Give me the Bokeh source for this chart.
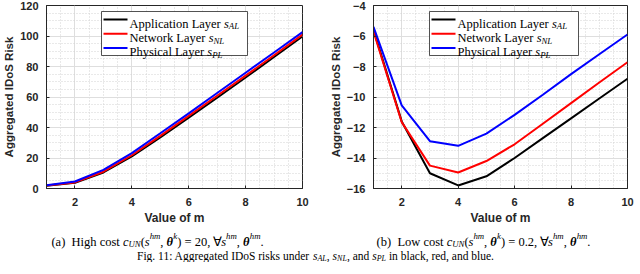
from bokeh.plotting import figure
from bokeh.models import Range1d, SingleIntervalTicker, BoxAnnotation
from bokeh.core.properties import value
from bokeh.layouts import row, column
from bokeh.embed import file_html
from bokeh.resources import INLINE

# ---------------- data ----------------
m_values = [1, 2, 3, 4, 5, 6, 7, 8, 9, 10]

high_AL = [1.8, 3.8, 10.5, 21.0, 33.5, 46.5, 59.5, 72.8, 86.2, 99.7]
high_NL = [2.0, 4.0, 11.0, 21.8, 34.5, 47.6, 60.8, 74.0, 87.4, 100.9]
high_PL = [2.2, 4.6, 12.2, 23.2, 36.2, 49.3, 62.6, 75.9, 89.2, 102.5]

low_AL = [-5.6, -11.6, -15.0, -15.8, -15.2, -14.0, -12.7, -11.4, -10.1, -8.8]
low_NL = [-5.7, -11.65, -14.5, -14.95, -14.2, -13.1, -11.75, -10.4, -9.05, -7.72]
low_PL = [-5.4, -10.55, -12.9, -13.2, -12.4, -11.17, -9.85, -8.5, -7.2, -5.9]

series_names = ["Application Layer ", "Network Layer ", "Physical Layer "]
series_subs = ["AL", "NL", "PL"]
series_colors = ["black", "red", "blue"]

x_label = "Value of m"
y_label = "Aggregated IDoS Risk"

# ---------------- style ----------------
SERIF = "Liberation Serif"
SANS = "Liberation Sans"
AX = "#262626"
FH = 183
BB = 35          # bottom border of the panels
CAP_H = 258 - 5 - FH - BB

W_REG = {' ': 250, '(': 333, ')': 333, ',': 250, '.': 250, ':': 278, '=': 564,
         '0': 500, '1': 500, '2': 500, 'A': 722, 'D': 722, 'F': 556, 'H': 722,
         'I': 333, 'L': 611, 'N': 722, 'P': 556, 'S': 556, 'a': 444, 'b': 500,
         'c': 444, 'd': 500, 'e': 444, 'f': 333, 'g': 500, 'h': 500, 'i': 278,
         'k': 500, 'l': 278, 'm': 778, 'n': 500, 'o': 500, 'p': 500, 'r': 333,
         's': 389, 't': 278, 'u': 500, 'v': 500, 'w': 722, 'y': 500,
         '\u2200': 620, '\u03b8': 540}
W_IT = {'A': 611, 'L': 556, 'N': 667, 'P': 611, 'U': 722, 'c': 444, 'h': 500,
        'k': 444, 'm': 722, 's': 389}
ITAL = ('i', 'isub', 'isup')
SCALE = {'n': 1, 'i': 1, 'bi': 1, 'isub': 0.7, 'isup': 0.7}
DY = {'isub': -0.22, 'isup': 0.42}


def text_width(t, size, kind):
    table = W_IT if kind in ITAL else W_REG
    return sum(table.get(c, W_REG.get(c, 500)) for c in t) * size / 1000.0


def rich_text(p, to_data, x, y, segs, size, center=False):
    """Draw a run of differently styled text pieces; x, y are pixel offsets
    inside the frame (from its bottom-left) converted by to_data."""
    sizes = [size * SCALE[k] for _, k in segs]
    widths = [text_width(t, s, k) for (t, k), s in zip(segs, sizes)]
    if center:
        x -= sum(widths) / 2.0
    for (t, k), s, w in zip(segs, sizes, widths):
        stripped = t.strip()
        lead = len(t) - len(t.lstrip())
        if stripped:
            style = ('italic' if k in ITAL else 'bold italic' if k == 'bi' else 'normal')
            dx, dy = to_data(x + text_width(' ' * lead, s, 'n'), y + DY.get(k, 0) * size)
            r = p.text(x=[dx], y=[dy], text=[stripped], text_font=value(SERIF),
                       text_font_style=style, text_font_size=f"{s:.1f}px",
                       text_color='black', text_baseline='alphabetic', text_align='left')
            r.level = 'overlay'
        x += w


def make_fig(yr, yint, fw, bl, br):
    p = figure(frame_width=fw, frame_height=FH, x_range=Range1d(1, 10),
               y_range=Range1d(*yr), output_backend="svg", toolbar_location=None,
               min_border_left=bl, min_border_right=br, min_border_top=5,
               min_border_bottom=BB)
    xt = SingleIntervalTicker(interval=2, num_minor_ticks=4)
    yt = SingleIntervalTicker(interval=yint, num_minor_ticks=4)
    p.xaxis.ticker = xt
    p.xgrid.ticker = xt
    p.yaxis.ticker = yt
    p.ygrid.ticker = yt
    for g in (p.xgrid, p.ygrid):
        g.grid_line_color = "#dedede"
        g.grid_line_width = 1
        g.minor_grid_line_color = "#d2d2d2"
        g.minor_grid_line_dash = "1 2"
        g.minor_grid_line_width = 1
    for a in (p.xaxis, p.yaxis):
        a.axis_line_color = AX
        a.major_tick_line_color = AX
        a.major_tick_in = 3
        a.major_tick_out = 0
        a.minor_tick_line_color = None
        a.major_label_text_font = SANS
        a.major_label_text_font_style = "bold"
        a.major_label_text_font_size = "11px"
        a.major_label_text_color = AX
        a.axis_label_text_font = SANS
        a.axis_label_text_font_style = "bold"
        a.axis_label_text_color = AX
    p.xaxis.axis_label = x_label
    p.xaxis.axis_label_text_font_size = "12px"
    p.xaxis.major_label_standoff = 5
    p.xaxis.axis_label_standoff = 2
    p.yaxis.axis_label = y_label
    p.yaxis.axis_label_text_font_size = "11.5px"
    p.yaxis.major_label_standoff = 4
    p.yaxis.axis_label_standoff = 2
    p.outline_line_color = AX
    p.outline_line_alpha = 1
    p.outline_line_width = 1
    p.background_fill_color = "white"
    p.border_fill_color = "white"
    return p


def converter(xr, yr, fw):
    def f(sx, sy):
        return (xr[0] + sx * (xr[1] - xr[0]) / fw, yr[0] + sy * (yr[1] - yr[0]) / FH)
    return f


def add_legend(p, to_data, left, width):
    top_off, bot_off = 6, 50
    p.add_layout(BoxAnnotation(left=left, right=left + width, top=FH - top_off,
                               bottom=FH - bot_off, left_units='screen',
                               right_units='screen', top_units='screen',
                               bottom_units='screen', fill_color='white', fill_alpha=1,
                               line_color=AX, line_width=0.8, line_alpha=1))
    for i, (nm, sb, c) in enumerate(zip(series_names, series_subs, series_colors)):
        yc = FH - (14 + 14.3 * i)
        p.add_layout(BoxAnnotation(left=left + 2, right=left + 26, top=yc + 1,
                                   bottom=yc - 1, left_units='screen',
                                   right_units='screen', top_units='screen',
                                   bottom_units='screen', fill_color=c, fill_alpha=1,
                                   line_color=None))
        rich_text(p, to_data, left + 28, yc - 4, [(nm, 'n'), ("s", 'i'), (sb, 'isub')], 12.5)


def caption(p, cx, label, cost_text, val):
    segs = [(label, 'n'), ("  " + cost_text + " ", 'n'), ("c", 'i'), ("UN", 'isub'),
            ("(", 'n'), ("s", 'i'), ("hm", 'isup'), (", ", 'n'), ("\u03b8", 'bi'),
            ("k", 'isup'), (") = " + val + ", \u2200", 'n'), ("s", 'i'), ("hm", 'isup'),
            (", ", 'n'), ("\u03b8", 'bi'), ("hm", 'isup'), (".", 'n')]
    rich_text(p, lambda a, b: (a, b), cx, 21, segs, 12.5, center=True)


# ---------------- left panel ----------------
p1 = make_fig((0, 120), 20, 256, 36, 24)
for ys, c in zip([high_AL, high_NL, high_PL], series_colors):
    p1.line(m_values, ys, line_color=c, line_width=2)
add_legend(p1, converter((1, 10), (0, 120), 256), 55, 146)

# ---------------- right panel ----------------
p2 = make_fig((-16, -4), 2, 254, 46, 8)
for ys, c in zip([low_AL, low_NL, low_PL], series_colors):
    p2.line(m_values, ys, line_color=c, line_width=2)
add_legend(p2, converter((1, 10), (-16, -4), 254), 56, 149)

# ---------------- captions strip ----------------
pc = figure(width=624, height=CAP_H, x_range=Range1d(0, 624), y_range=Range1d(0, CAP_H),
            x_axis_type=None, y_axis_type=None, output_backend="svg",
            toolbar_location=None, min_border=0)
pc.grid.visible = False
pc.outline_line_color = None
pc.background_fill_color = "white"
pc.border_fill_color = "white"
caption(pc, 157, "(a)", "High cost", "20")
caption(pc, 483, "(b)", "Low cost", "0.2")
fig_segs = [("Fig. 11: Aggregated IDoS risks under ", 'n'), ("s", 'i'), ("AL", 'isub'),
            (", ", 'n'), ("s", 'i'), ("NL", 'isub'), (", and ", 'n'), ("s", 'i'),
            ("PL", 'isub'), (" in black, red, and blue.", 'n')]
rich_text(pc, lambda a, b: (a, b), 315, 6.5, fig_segs, 11.5, center=True)

layout = column(row(p1, p2), pc)
open("out.html", "w").write(file_html(layout, INLINE))
